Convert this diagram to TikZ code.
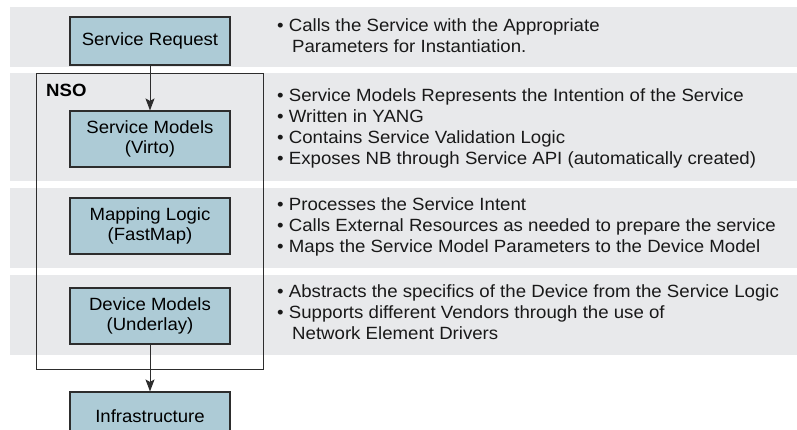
\documentclass[tikz,border=0pt]{standalone}
\usepackage{fontspec}
\setmainfont{Liberation Sans}
\newfontfamily\notefont[FakeStretch=1.053]{Liberation Sans}
\newfontfamily\boxfont[FakeStretch=1.05]{Liberation Sans}
\usetikzlibrary{arrows.meta}
\definecolor{bandgray}{RGB}{232,233,235}
\definecolor{boxblue}{RGB}{173,203,214}
\definecolor{edgecol}{RGB}{45,45,45}
\begin{document}
\begin{tikzpicture}[x=1pt,y=-1pt,
  band/.style={fill=bandgray, draw=none},
  box/.style={draw=edgecol, line width=1.1pt, fill=boxblue, minimum width=160pt,
    minimum height=56pt, align=center, font=\boxfont\fontsize{17.7}{20}\selectfont, inner sep=0pt},
  note/.style={anchor=base west, font=\notefont\fontsize{17.7}{21}\selectfont, inner sep=0pt, text=black!90},
  arr/.style={draw=edgecol, line width=1pt, -{Stealth[length=12pt,width=9pt,inset=2.5pt]}}]
\useasboundingbox (0,0) rectangle (797,430);
\clip (0,0) rectangle (797,430);
% bands
\fill[band] (10,7) rectangle (797,67);
\fill[band] (10,73) rectangle (797,181);
\fill[band] (10,188) rectangle (797,268);
\fill[band] (10,275) rectangle (797,355);
% NSO frame
\node[draw=edgecol, line width=1pt, minimum width=227pt, minimum height=295pt, inner sep=0pt] (nso) at (149.5,221.5) {};
\node[anchor=base west, inner sep=0pt, font=\boxfont\fontsize{17.7}{20}\selectfont\bfseries] (nsolabel) at (46,97) {NSO};
% boxes
\node[box, minimum height=48pt] (req) at (150,41) {Service Request};
\node[box] (sm) at (150,139) {Service Models\\(Virto)};
\node[box] (ml) at (150,226) {Mapping Logic\\(FastMap)};
\node[box] (dm) at (150,316) {Device Models\\(Underlay)};
\node[box, minimum height=48pt] (inf) at (150,416) {Infrastructure};
% arrows
\draw[arr] (req) -- (sm);
\draw[arr] (dm) -- (inf);
% notes
\node[note] (n1a) at (277,32) {• Calls the Service with the Appropriate};
\node[note] (n1b) at (292,53) {Parameters for Instantiation.};
\node[note] (n2a) at (277,102) {• Service Models Represents the Intention of the Service};
\node[note] (n2b) at (277,123) {• Written in YANG};
\node[note] (n2c) at (277,144) {• Contains Service Validation Logic};
\node[note] (n2d) at (277,165) {• Exposes NB through Service API (automatically created)};
\node[note] (n3a) at (277,211) {• Processes the Service Intent};
\node[note] (n3b) at (277,232) {• Calls External Resources as needed to prepare the service};
\node[note] (n3c) at (277,253) {• Maps the Service Model Parameters to the Device Model};
\node[note] (n4a) at (277,297) {• Abstracts the specifics of the Device from the Service Logic};
\node[note] (n4b) at (277,318) {• Supports different Vendors through the use of};
\node[note] (n4c) at (292,339) {Network Element Drivers};
\end{tikzpicture}
\end{document}
